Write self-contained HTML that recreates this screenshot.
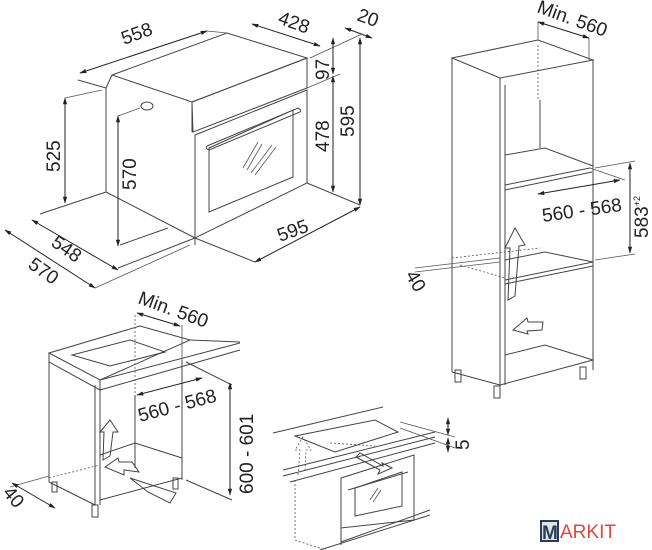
<!DOCTYPE html>
<html><head><meta charset="utf-8"><style>
html,body{margin:0;padding:0;background:#fff;}
svg{display:block}
text{font-family:"Liberation Sans",sans-serif;fill:#222;font-size:19px}
.l{stroke:#444;stroke-width:1;fill:none}
.t{stroke:#555;stroke-width:0.8;fill:none}
.d{stroke:#555;stroke-width:0.8;fill:none;stroke-dasharray:2 2}
.a{stroke:#222;stroke-width:1;fill:none;marker-start:url(#ar);marker-end:url(#ar)}
</style></head><body>
<svg width="652" height="550" viewBox="0 0 652 550" xmlns="http://www.w3.org/2000/svg">
<defs><marker id="ar" viewBox="0 0 10 10" refX="9" refY="5" markerWidth="7" markerHeight="7" orient="auto-start-reverse"><path d="M0,2 L10,5 L0,8 z" fill="#222"/></marker></defs>

<g>
<polyline class="l" points="112,75 227,33 307,58 192,102 112,75"/>
<line class="l" x1="106" y1="88" x2="106" y2="192"/>
<line class="l" x1="112" y1="75" x2="106" y2="88"/>
<line class="l" x1="106" y1="88" x2="78" y2="80"/>
<polygon class="l" points="192,102 307,58 307,88 193,132"/>
<polygon class="l" points="195,135 307,90 307,183 195,238"/>
<line class="l" x1="192" y1="102" x2="192" y2="132"/>
<polygon class="l" points="209,148 293,110 293,177 209,212"/>
<line class="t" x1="243" y1="168" x2="258" y2="142"/><line class="t" x1="247" y1="170" x2="262" y2="144"/>
<line class="t" x1="255" y1="175" x2="276" y2="147"/><line class="t" x1="251" y1="173" x2="272" y2="145"/>
<path class="l" d="M207,146 L298,108 Q302,110 300,112 L209,150 Q205,149 207,146z"/>
<ellipse class="l" cx="147" cy="106" rx="6" ry="4"/>
<line class="l" x1="106" y1="192" x2="195" y2="238"/>
<line class="l" x1="106" y1="192" x2="40" y2="214"/>
<line class="l" x1="307" y1="183" x2="360" y2="205"/>
<line class="l" x1="195" y1="238" x2="255" y2="262"/>
<line class="l" x1="120" y1="245" x2="168" y2="228"/>
<line class="l" x1="195" y1="238" x2="118" y2="268"/>
<line class="l" x1="195" y1="238" x2="195" y2="245"/>
<line class="a" x1="80" y1="73" x2="207" y2="31"/>
<line class="t" x1="207" y1="31" x2="227" y2="33"/>
<line class="a" x1="252" y1="24" x2="320" y2="46"/>
<line class="a" x1="345" y1="28" x2="372" y2="38"/>
<line class="t" x1="310" y1="58" x2="362" y2="34"/>
<line class="a" x1="333" y1="38" x2="333" y2="74"/>
<line class="a" x1="333" y1="76" x2="333" y2="192"/>
<line class="a" x1="360" y1="38" x2="360" y2="205"/>
<line class="t" x1="307" y1="88" x2="340" y2="74"/>
<line class="a" x1="65" y1="98" x2="65" y2="203"/>
<line class="t" x1="65" y1="98" x2="102" y2="90"/>
<line class="a" x1="118" y1="116" x2="118" y2="246"/>
<line class="t" x1="118" y1="116" x2="140" y2="108"/>
<line class="a" x1="255" y1="262" x2="360" y2="207"/>
<line class="a" x1="32" y1="220" x2="118" y2="270"/>
<line class="a" x1="5" y1="230" x2="95" y2="288"/>
<line class="t" x1="95" y1="288" x2="190" y2="245"/>
<text transform="translate(124,45) rotate(-20)">558</text>
<text transform="translate(277,23) rotate(20)">428</text>
<text transform="translate(356,20) rotate(20)">20</text>
<text transform="translate(329,80) rotate(-90)">97</text>
<text transform="translate(329,152) rotate(-90)">478</text>
<text transform="translate(354,137) rotate(-90)">595</text>
<text transform="translate(60,172) rotate(-90)">525</text>
<text transform="translate(136,190) rotate(-90)">570</text>
<text transform="translate(280,242) rotate(-20)">595</text>
<text transform="translate(50,245) rotate(35)">548</text>
<text transform="translate(27,267) rotate(35)">570</text>
</g>

<g>
<polygon class="l" points="452,58 538,40 593,60 500,78"/>
<line class="l" x1="452" y1="58" x2="452" y2="372"/>
<line class="l" x1="500" y1="78" x2="500" y2="385"/>
<line class="l" x1="505" y1="85" x2="505" y2="385"/>
<line class="l" x1="593" y1="60" x2="593" y2="370"/>
<line class="l" x1="452" y1="372" x2="500" y2="385"/>
<line class="l" x1="500" y1="385" x2="593" y2="360"/>
<line class="d" x1="538" y1="45" x2="538" y2="100"/>
<line class="l" x1="540" y1="100" x2="540" y2="148"/>
<polyline class="l" points="505,155 545,148 593,166"/>
<polyline class="l" points="505,185 590,168"/>
<polyline class="l" points="505,190 592,172"/>
<polyline class="l" points="505,260 545,252 593,262"/>
<polyline class="l" points="505,280 593,262"/>
<polyline class="l" points="505,284 593,266"/>
<polyline class="l" points="505,355 545,345 593,360"/>
<rect class="l" x="455" y="370" width="6" height="12"/>
<rect class="l" x="494" y="386" width="6" height="12"/>
<rect class="l" x="580" y="367" width="6" height="12"/>
<path class="l" d="M508,300 L510,248 L505,248 L515,228 L525,245 L519,246 L515,296z"/>
<path class="l" d="M513,330 L527,318 L528,322 L543,322 L542,330 L527,331 L528,334z"/>
<line class="a" x1="538" y1="22" x2="589" y2="38"/>
<line class="t" x1="589" y1="38" x2="589" y2="60"/>
<line class="t" x1="538" y1="22" x2="538" y2="40"/>
<line class="a" x1="538" y1="194" x2="620" y2="180"/>
<line class="t" x1="590" y1="168" x2="625" y2="180"/>
<line class="a" x1="630" y1="163" x2="630" y2="253"/>
<line class="t" x1="595" y1="168" x2="635" y2="161"/>
<line class="t" x1="595" y1="260" x2="635" y2="254"/>
<line class="t" x1="415" y1="268" x2="500" y2="258"/>
<line class="t" x1="415" y1="272" x2="500" y2="262"/>
<line class="d" x1="452" y1="258" x2="540" y2="248"/>
<line class="d" x1="460" y1="265" x2="505" y2="278"/>
<text transform="translate(536,12) rotate(20)">Min. 560</text>
<text transform="translate(543,222) rotate(-8)">560 - 568</text>
<text transform="translate(648,238) rotate(-90)">583<tspan font-size="9" dy="-8">+2</tspan></text>
<text transform="translate(405,275) rotate(60)">40</text>
</g>

<g>
<polygon class="l" points="49,353 140,326 190,340 100,380"/>
<polygon class="l" points="72,355 130,340 165,352 110,366"/>
<polyline class="l" points="49,353 49,362 100,390 100,380"/>
<line class="l" x1="100" y1="390" x2="240" y2="350"/>
<line class="l" x1="190" y1="340" x2="240" y2="342"/>
<line class="l" x1="100" y1="380" x2="240" y2="343"/>
<line class="l" x1="49" y1="362" x2="49" y2="482"/>
<line class="l" x1="95" y1="385" x2="95" y2="505"/>
<line class="l" x1="100" y1="390" x2="100" y2="505"/>
<line class="l" x1="182" y1="360" x2="182" y2="480"/>
<line class="l" x1="135" y1="395" x2="135" y2="468"/>
<line class="l" x1="100" y1="500" x2="182" y2="478"/>
<line class="l" x1="100" y1="455" x2="135" y2="443"/>
<line class="l" x1="135" y1="443" x2="182" y2="458"/>
<line class="l" x1="49" y1="482" x2="95" y2="505"/>
<line class="l" x1="186" y1="362" x2="232" y2="385"/>
<line class="l" x1="186" y1="480" x2="232" y2="500"/>
<rect class="l" x="52" y="482" width="5" height="10"/>
<rect class="l" x="92" y="505" width="6" height="12"/>
<rect class="l" x="173" y="478" width="5" height="11"/>
<path class="l" d="M103,460 L104,432 L100,432 L110,420 L118,432 L113,432 L110,456z"/>
<path class="l" d="M105,467 L118,458 L119,462 L132,462 L139,472 L124,470 L124,475z"/>
<path class="l" d="M130,478 L176,493 L170,503 L148,492z"/>
<line class="d" x1="135" y1="315" x2="135" y2="395"/>
<line class="t" x1="182" y1="325" x2="182" y2="360"/>
<line class="a" x1="137" y1="313" x2="180" y2="326"/>
<line class="a" x1="137" y1="395" x2="202" y2="378"/>
<line class="a" x1="230" y1="383" x2="230" y2="495"/>
<line class="t" x1="10" y1="487" x2="49" y2="476"/>
<line class="d" x1="49" y1="478" x2="100" y2="465"/>
<line class="a" x1="12" y1="483" x2="55" y2="508"/>
<text transform="translate(137,303) rotate(20)">Min. 560</text>
<text transform="translate(140,422) rotate(-15)">560 - 568</text>
<text transform="translate(253,494) rotate(-90)">600 - 601</text>
<text transform="translate(2,493) rotate(50)">40</text>
</g>

<g>
<line class="l" x1="273" y1="433" x2="383" y2="407"/>
<polygon class="l" points="295,436 375,420 398,432 335,452"/>
<line class="l" x1="283" y1="470" x2="435" y2="432"/>
<line class="l" x1="283" y1="476" x2="435" y2="437"/>
<line class="l" x1="290" y1="482" x2="435" y2="443"/>
<polygon class="l" points="341,478 414,455 414,520 341,528"/>
<polygon class="l" points="355,488 402,472 402,506 355,516"/>
<line class="l" x1="348" y1="490" x2="408" y2="472"/>
<line class="t" x1="370" y1="500" x2="378" y2="488"/><line class="t" x1="373" y1="502" x2="381" y2="490"/>
<line class="d" x1="295" y1="480" x2="295" y2="540"/>
<line class="d" x1="295" y1="540" x2="341" y2="555"/>
<line class="l" x1="341" y1="528" x2="341" y2="545"/>
<line class="l" x1="341" y1="542" x2="430" y2="510"/>
<line class="l" x1="320" y1="550" x2="430" y2="515"/>
<line class="d" x1="330" y1="443" x2="375" y2="446"/>
<path class="d" d="M298,475 L300,450 L295,450 L303,437 L311,450 L306,450 L305,470"/>
<path class="l" d="M356,457 L380,470 L378,474 L392,468 L382,463 L383,466 L360,453z"/>
<line class="t" x1="400" y1="422" x2="455" y2="437"/>
<line class="t" x1="400" y1="428" x2="455" y2="448"/>
<line class="a" x1="448" y1="418" x2="448" y2="435"/>
<line class="a" x1="448" y1="452" x2="448" y2="438"/>
<text transform="translate(469,450) rotate(-90)">5</text>
</g>

<rect x="541" y="521" width="17" height="20" fill="#dfe3ea" stroke="#2b3a55" stroke-width="2"/>
<text x="542" y="539" font-size="19" style="fill:#2b3a55;font-weight:bold">M</text>
<text x="560" y="538" font-size="16" style="fill:#e0463c">ARKIT</text>
</svg>
</body></html>
